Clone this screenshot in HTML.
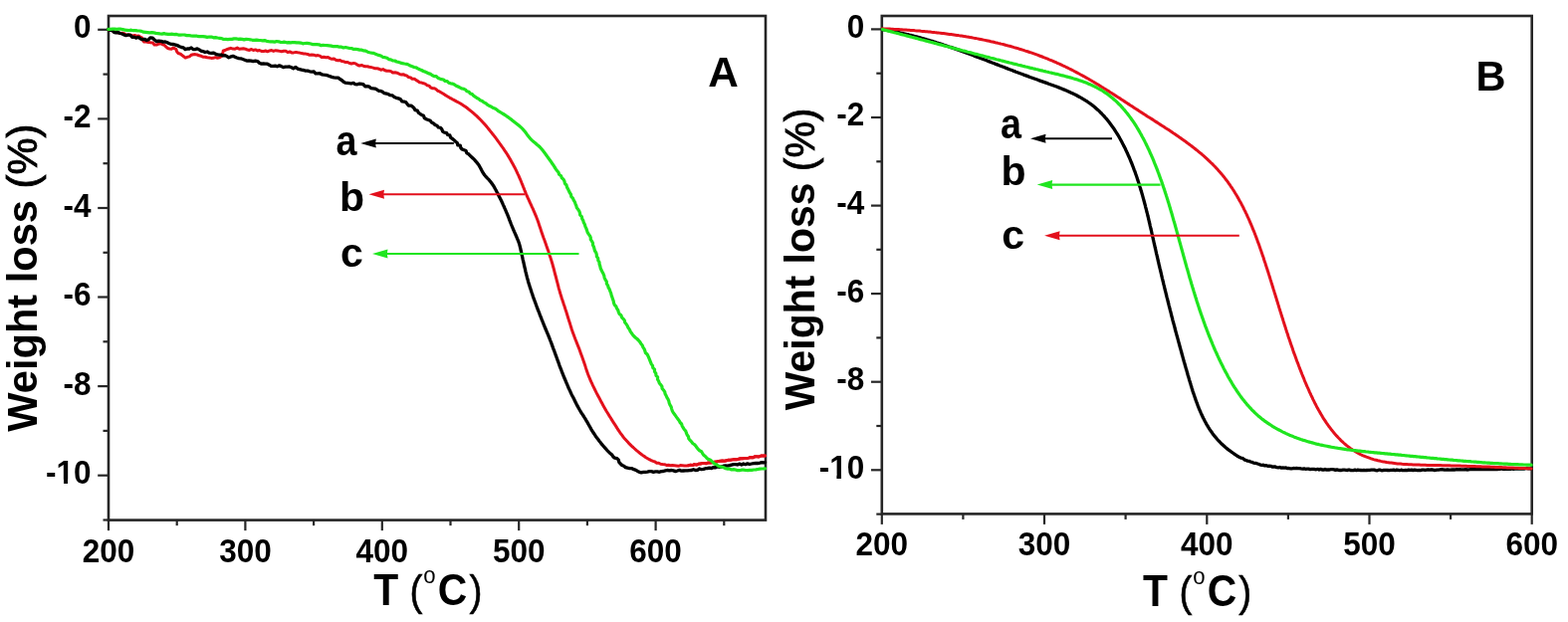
<!DOCTYPE html><html><head><meta charset="utf-8"><style>html,body{margin:0;padding:0;background:#fff;}svg{display:block;}</style></head><body>
<svg width="1575" height="625" viewBox="0 0 1575 625">
<rect width="1575" height="625" fill="#fff"/>
<rect x="109.0" y="16.0" width="660.0" height="506.6" fill="none" stroke="#262626" stroke-width="2.6"/>
<line x1="109.0" y1="522.6" x2="109.0" y2="533.1" stroke="#262626" stroke-width="2.2"/>
<line x1="177.7" y1="522.6" x2="177.7" y2="528.1" stroke="#262626" stroke-width="2.2"/>
<line x1="246.4" y1="522.6" x2="246.4" y2="533.1" stroke="#262626" stroke-width="2.2"/>
<line x1="315.1" y1="522.6" x2="315.1" y2="528.1" stroke="#262626" stroke-width="2.2"/>
<line x1="383.8" y1="522.6" x2="383.8" y2="533.1" stroke="#262626" stroke-width="2.2"/>
<line x1="452.5" y1="522.6" x2="452.5" y2="528.1" stroke="#262626" stroke-width="2.2"/>
<line x1="521.2" y1="522.6" x2="521.2" y2="533.1" stroke="#262626" stroke-width="2.2"/>
<line x1="589.9" y1="522.6" x2="589.9" y2="528.1" stroke="#262626" stroke-width="2.2"/>
<line x1="658.6" y1="522.6" x2="658.6" y2="533.1" stroke="#262626" stroke-width="2.2"/>
<line x1="727.3" y1="522.6" x2="727.3" y2="528.1" stroke="#262626" stroke-width="2.2"/>
<line x1="98.2" y1="29.8" x2="109.0" y2="29.8" stroke="#262626" stroke-width="2.2"/>
<line x1="103.5" y1="74.6" x2="109.0" y2="74.6" stroke="#262626" stroke-width="2.2"/>
<line x1="98.2" y1="119.4" x2="109.0" y2="119.4" stroke="#262626" stroke-width="2.2"/>
<line x1="103.5" y1="164.2" x2="109.0" y2="164.2" stroke="#262626" stroke-width="2.2"/>
<line x1="98.2" y1="209.0" x2="109.0" y2="209.0" stroke="#262626" stroke-width="2.2"/>
<line x1="103.5" y1="253.8" x2="109.0" y2="253.8" stroke="#262626" stroke-width="2.2"/>
<line x1="98.2" y1="298.5" x2="109.0" y2="298.5" stroke="#262626" stroke-width="2.2"/>
<line x1="103.5" y1="343.3" x2="109.0" y2="343.3" stroke="#262626" stroke-width="2.2"/>
<line x1="98.2" y1="388.1" x2="109.0" y2="388.1" stroke="#262626" stroke-width="2.2"/>
<line x1="103.5" y1="432.9" x2="109.0" y2="432.9" stroke="#262626" stroke-width="2.2"/>
<line x1="98.2" y1="477.7" x2="109.0" y2="477.7" stroke="#262626" stroke-width="2.2"/>
<line x1="103.5" y1="522.5" x2="109.0" y2="522.5" stroke="#262626" stroke-width="2.2"/>
<g fill="none" stroke-linejoin="round" stroke-linecap="round">
<path d="M108.7 29.8 L110.6 30.4 L112.7 30.6 L114.5 31.7 L116.5 32.0 L118.4 32.9 L120.5 33.4 L122.7 33.2 L124.8 33.6 L126.6 35.2 L128.8 34.9 L130.9 35.1 L133.1 36.2 L135.3 35.5 L137.3 36.2 L139.3 36.1 L140.9 37.1 L142.8 38.1 L143.4 40.4 L144.7 42.1 L146.9 42.0 L149.2 42.4 L151.2 42.8 L153.6 43.1 L155.1 45.0 L157.3 45.1 L159.4 44.2 L161.6 43.4 L163.4 44.8 L165.3 45.4 L166.7 46.9 L168.3 48.3 L170.2 49.0 L172.2 49.2 L174.0 48.1 L175.5 48.7 L177.0 49.6 L177.6 51.8 L179.0 53.5 L181.3 54.2 L182.9 55.6 L184.5 56.7 L186.2 58.1 L188.2 57.3 L190.2 56.9 L192.0 55.3 L194.1 54.7 L196.1 54.6 L198.1 55.0 L200.0 55.8 L202.0 56.3 L203.9 57.2 L206.0 57.2 L208.1 57.8 L210.1 58.0 L212.2 58.4 L214.3 58.3 L216.3 57.6 L218.4 58.2 L220.5 57.8 L222.2 56.7 L223.0 54.8 L223.9 53.1 L224.2 51.0 L226.1 50.5 L227.8 49.7 L229.8 49.0 L231.8 48.3 L234.0 49.1 L236.1 49.2 L238.3 48.1 L240.4 49.3 L242.4 49.0 L244.5 48.8 L246.5 49.2 L248.5 50.1 L250.5 50.4 L252.6 49.5 L254.5 50.5 L256.6 49.9 L258.6 51.0 L260.6 50.5 L262.6 51.4 L264.7 51.6 L266.7 51.0 L268.7 51.8 L270.8 50.9 L272.8 50.6 L274.8 51.4 L276.9 50.7 L278.9 51.0 L280.9 51.4 L282.9 51.8 L285.0 51.3 L287.0 51.3 L289.0 52.6 L291.1 51.9 L293.0 52.9 L295.0 52.9 L297.1 52.4 L299.1 52.8 L301.1 53.1 L303.1 53.6 L305.1 53.9 L307.1 54.1 L309.1 54.5 L311.1 55.3 L313.2 55.0 L315.2 55.2 L317.1 55.9 L319.3 55.6 L321.3 56.1 L323.1 57.5 L325.3 57.3 L327.3 57.8 L329.5 57.5 L331.4 58.6 L333.3 59.3 L335.5 59.0 L337.3 60.2 L339.3 60.7 L341.5 60.4 L343.3 61.6 L345.3 61.8 L347.2 62.6 L349.3 62.6 L351.1 63.5 L353.1 64.0 L355.3 63.4 L357.2 63.9 L359.0 65.2 L360.9 66.1 L363.1 65.5 L365.0 66.2 L366.9 66.8 L369.0 66.8 L370.9 67.3 L372.9 67.6 L374.9 68.1 L376.8 68.8 L378.8 68.8 L380.8 69.3 L382.6 70.2 L384.8 69.6 L386.6 70.7 L388.6 71.3 L390.7 71.2 L392.7 71.6 L394.5 73.0 L396.8 72.7 L398.8 73.2 L400.7 74.1 L402.7 75.0 L404.9 74.7 L406.8 75.5 L408.8 76.2 L410.4 77.6 L412.5 77.9 L414.1 79.3 L416.3 79.3 L418.0 80.4 L419.7 81.6 L421.4 82.8 L423.5 83.1 L425.4 83.7 L427.3 84.4 L428.9 85.7 L430.9 86.1 L432.4 87.8 L434.2 88.7 L436.4 88.7 L438.1 89.7 L439.6 91.3 L441.5 91.9 L443.2 93.0 L444.9 94.0 L446.6 95.1 L448.4 96.2 L450.1 97.2 L451.8 98.3 L453.6 99.2 L455.3 100.2 L457.1 101.1 L458.9 102.1 L460.7 103.0 L462.4 104.0 L464.1 105.1 L465.8 106.2 L467.5 107.3 L469.2 108.5 L470.8 109.8 L472.4 111.1 L474.0 112.4 L475.5 113.7 L477.1 115.1 L478.6 116.4 L480.1 117.9 L481.6 119.3 L483.0 120.7 L484.4 122.2 L485.8 123.7 L487.2 125.3 L488.5 126.8 L489.8 128.4 L491.1 130.0 L492.4 131.6 L493.7 133.2 L494.9 134.8 L496.2 136.4 L497.5 138.0 L498.7 139.7 L499.9 141.3 L501.1 143.0 L502.3 144.7 L503.5 146.3 L504.7 148.0 L505.9 149.7 L507.0 151.4 L508.2 153.1 L509.3 154.8 L510.4 156.6 L511.4 158.3 L512.5 160.1 L513.5 161.9 L514.5 163.7 L515.5 165.5 L516.4 167.3 L517.4 169.1 L518.3 170.9 L519.2 172.8 L520.0 174.6 L520.9 176.4 L521.7 178.3 L522.5 180.1 L523.3 182.0 L524.0 183.8 L524.8 185.7 L525.5 187.6 L526.3 189.4 L527.0 191.3 L527.8 193.2 L528.5 195.0 L529.3 196.9 L530.1 198.7 L531.0 200.5 L531.8 202.4 L532.6 204.2 L533.5 206.0 L534.3 207.9 L535.2 209.7 L536.0 211.6 L536.8 213.4 L537.6 215.3 L538.4 217.2 L539.2 219.2 L539.9 221.1 L540.6 223.1 L541.3 225.1 L541.9 227.1 L542.6 229.1 L543.3 231.1 L543.9 233.1 L544.6 235.1 L545.3 237.1 L546.0 239.0 L546.8 241.0 L547.5 242.9 L548.2 244.9 L548.8 246.8 L549.5 248.8 L550.2 250.7 L550.9 252.6 L551.5 254.6 L552.1 256.5 L552.8 258.4 L553.4 260.4 L554.0 262.3 L554.6 264.3 L555.2 266.3 L555.7 268.3 L556.3 270.3 L556.8 272.3 L557.3 274.3 L557.8 276.3 L558.4 278.3 L558.9 280.3 L559.4 282.3 L559.9 284.2 L560.4 286.2 L560.9 288.1 L561.4 290.1 L562.0 292.0 L562.5 294.0 L563.1 295.9 L563.7 297.8 L564.3 299.8 L565.0 301.7 L565.6 303.6 L566.2 305.5 L566.9 307.4 L567.5 309.4 L568.1 311.3 L568.8 313.3 L569.4 315.2 L570.0 317.2 L570.6 319.2 L571.2 321.1 L571.8 323.1 L572.5 325.1 L573.1 327.1 L573.7 329.0 L574.3 331.0 L575.0 332.9 L575.7 334.9 L576.4 336.8 L577.1 338.7 L577.8 340.6 L578.6 342.5 L579.3 344.4 L580.1 346.3 L580.8 348.2 L581.6 350.1 L582.3 352.0 L583.0 353.9 L583.7 355.9 L584.4 357.8 L585.1 359.8 L585.8 361.8 L586.5 363.8 L587.2 365.8 L587.9 367.9 L588.5 369.9 L589.2 372.0 L589.9 374.0 L590.6 376.0 L591.4 378.0 L592.2 379.9 L593.0 381.8 L593.8 383.7 L594.7 385.5 L595.5 387.4 L596.4 389.2 L597.3 391.0 L598.2 392.9 L599.1 394.7 L600.1 396.5 L601.0 398.3 L602.0 400.1 L603.0 401.9 L603.9 403.8 L604.9 405.6 L605.9 407.4 L606.9 409.2 L607.9 411.0 L608.9 412.8 L610.0 414.5 L611.1 416.3 L612.2 418.1 L613.3 419.8 L614.4 421.6 L615.5 423.4 L616.6 425.1 L617.8 426.9 L618.9 428.6 L620.0 430.4 L621.1 432.1 L622.3 433.9 L623.5 435.6 L624.7 437.2 L625.9 438.9 L627.2 440.5 L628.6 442.0 L630.0 443.5 L631.4 445.1 L632.9 446.6 L634.4 448.1 L636.0 449.5 L637.6 451.0 L639.1 452.4 L640.7 453.7 L642.3 455.0 L643.9 456.2 L645.5 457.4 L647.2 458.6 L648.8 459.7 L650.6 460.7 L652.3 461.7 L654.1 462.6 L656.0 463.4 L657.9 464.0 L659.6 465.2 L661.7 465.3 L663.5 466.3 L665.5 466.6 L667.5 466.7 L669.4 467.4 L671.5 467.3 L673.4 467.8 L675.4 467.6 L677.4 467.7 L679.4 468.0 L681.4 468.3 L683.4 467.6 L685.5 467.7 L687.5 467.9 L689.5 468.1 L691.5 467.7 L693.5 467.3 L695.6 467.6 L697.5 466.6 L699.6 467.1 L701.5 466.3 L703.5 465.9 L705.5 465.6 L707.6 465.5 L709.6 465.7 L711.6 464.9 L713.6 465.0 L715.6 464.8 L717.6 464.3 L719.7 464.1 L721.6 463.4 L723.6 463.2 L725.6 463.0 L727.7 463.2 L729.7 462.7 L731.7 462.3 L733.7 462.3 L735.7 461.9 L737.7 461.5 L739.8 461.7 L741.8 461.3 L743.8 460.7 L745.8 460.7 L747.9 460.4 L750.0 460.5 L752.0 460.1 L754.0 459.4 L756.2 459.8 L758.1 458.8 L760.2 458.8 L762.3 458.9 L764.3 458.1 L766.4 458.1 L768.5 457.9 L768.5 457.9" stroke="#e3101c" stroke-width="3.0"/>
<path d="M108.7 29.8 L110.6 30.4 L112.8 30.5 L114.3 32.3 L116.3 32.8 L118.6 32.5 L120.5 33.5 L122.6 34.0 L124.6 34.9 L126.6 35.7 L128.9 35.0 L131.0 35.4 L132.6 37.3 L134.8 37.1 L136.6 38.2 L139.0 37.4 L140.8 38.7 L142.9 39.7 L145.2 39.3 L147.3 40.5 L149.3 39.8 L151.0 37.8 L153.3 38.1 L155.1 40.0 L157.0 41.5 L159.5 41.1 L161.7 41.3 L163.7 42.1 L166.0 41.9 L168.1 42.8 L170.0 43.7 L172.1 44.4 L174.3 44.5 L176.3 45.1 L178.4 45.7 L180.3 46.8 L182.3 47.5 L184.3 47.8 L186.0 49.6 L188.0 49.0 L190.1 49.0 L192.1 48.0 L194.0 49.5 L195.9 49.6 L198.2 48.9 L200.1 49.9 L201.9 51.1 L203.9 51.6 L205.9 52.5 L208.2 52.0 L210.1 53.2 L212.2 53.3 L214.3 53.1 L216.2 54.0 L218.1 54.9 L220.1 55.2 L222.2 55.1 L224.0 55.9 L226.2 55.6 L228.0 56.6 L229.8 57.8 L231.9 56.9 L234.0 56.3 L236.0 57.2 L237.8 58.0 L239.8 58.6 L241.9 58.8 L243.9 59.5 L245.8 60.2 L247.8 61.1 L250.1 61.0 L252.2 61.1 L254.3 61.6 L256.6 61.1 L258.7 61.5 L260.5 63.2 L262.3 64.1 L264.5 63.9 L266.5 64.1 L268.6 64.2 L270.4 65.2 L272.3 66.4 L274.4 66.3 L276.5 66.1 L278.4 66.8 L280.6 65.9 L282.6 66.6 L284.5 67.6 L286.6 67.1 L288.7 67.1 L290.8 67.0 L292.8 67.8 L294.7 68.8 L297.0 67.4 L298.9 69.1 L300.9 69.6 L302.9 70.2 L304.9 70.5 L306.9 71.1 L309.1 71.1 L311.1 71.8 L313.2 72.1 L315.4 72.0 L317.0 73.9 L319.2 73.9 L321.3 73.7 L323.2 74.8 L325.3 75.2 L327.3 75.4 L329.4 75.9 L331.3 76.7 L333.3 77.3 L335.3 77.8 L337.4 78.1 L339.7 78.1 L341.4 79.5 L343.2 80.5 L344.8 82.0 L346.7 83.1 L348.8 83.3 L350.8 83.6 L352.8 84.0 L355.0 83.3 L356.8 84.7 L358.9 84.8 L361.1 84.1 L363.2 84.3 L365.2 84.9 L366.7 86.8 L369.0 86.6 L371.0 87.1 L372.6 88.7 L374.7 88.9 L376.7 89.1 L378.6 90.0 L380.3 91.3 L382.4 91.4 L384.3 92.3 L386.0 93.7 L388.1 94.0 L390.1 94.6 L392.0 95.7 L394.3 95.9 L396.0 97.4 L398.0 98.3 L400.1 98.9 L402.2 99.6 L403.7 101.8 L405.9 102.1 L407.9 102.8 L409.1 104.6 L410.5 106.1 L412.9 106.1 L414.5 107.3 L416.0 108.7 L417.0 110.7 L419.2 111.1 L420.2 113.1 L421.8 114.3 L423.5 115.4 L425.5 116.3 L426.3 118.6 L428.2 119.7 L430.2 120.5 L432.3 121.3 L433.5 123.1 L435.5 124.0 L437.0 125.5 L439.0 126.3 L440.3 128.0 L442.5 128.4 L443.8 129.9 L444.7 132.1 L446.4 133.1 L448.6 133.5 L449.6 135.5 L451.8 135.9 L452.6 138.1 L454.3 139.3 L456.0 140.8 L457.6 142.3 L459.3 143.5 L459.8 145.9 L462.3 146.1 L462.8 148.5 L464.2 150.0 L466.2 150.8 L468.1 151.6 L468.8 153.8 L470.7 154.8 L472.2 156.3 L473.7 157.8 L475.2 159.2 L476.7 160.7 L478.1 162.3 L479.4 163.9 L480.7 165.5 L481.7 167.2 L482.7 169.0 L483.6 170.8 L484.6 172.6 L485.6 174.3 L486.8 176.0 L488.2 177.6 L489.6 179.2 L491.1 180.7 L492.5 182.3 L493.8 184.0 L495.0 185.7 L496.1 187.4 L497.1 189.2 L498.1 191.0 L499.0 192.8 L500.0 194.6 L500.9 196.4 L501.8 198.2 L502.7 200.0 L503.6 201.8 L504.5 203.7 L505.3 205.6 L506.2 207.5 L507.0 209.4 L507.9 211.4 L508.7 213.3 L509.5 215.2 L510.3 217.2 L511.1 219.1 L511.8 221.1 L512.6 223.1 L513.3 225.0 L514.1 227.0 L514.9 228.9 L515.7 230.8 L516.5 232.7 L517.4 234.6 L518.2 236.5 L519.0 238.4 L519.8 240.3 L520.6 242.2 L521.3 244.1 L521.9 246.1 L522.4 248.1 L522.9 250.1 L523.3 252.2 L523.8 254.2 L524.2 256.2 L524.7 258.3 L525.1 260.3 L525.6 262.4 L526.1 264.5 L526.5 266.5 L527.0 268.6 L527.5 270.6 L527.9 272.6 L528.4 274.7 L528.9 276.7 L529.4 278.7 L530.0 280.7 L530.5 282.7 L531.1 284.7 L531.7 286.6 L532.3 288.6 L533.0 290.5 L533.6 292.4 L534.2 294.3 L534.9 296.2 L535.5 298.2 L536.2 300.1 L536.9 302.0 L537.6 303.9 L538.3 305.8 L539.0 307.7 L539.7 309.6 L540.4 311.5 L541.2 313.3 L541.9 315.2 L542.6 317.1 L543.4 319.0 L544.1 320.9 L544.9 322.8 L545.6 324.7 L546.4 326.6 L547.2 328.6 L548.0 330.5 L548.8 332.4 L549.6 334.3 L550.4 336.2 L551.2 338.2 L552.0 340.1 L552.7 342.0 L553.5 344.0 L554.2 345.9 L554.9 347.9 L555.6 349.8 L556.4 351.8 L557.1 353.7 L557.8 355.7 L558.5 357.6 L559.2 359.5 L559.9 361.5 L560.6 363.4 L561.3 365.3 L561.9 367.1 L562.6 369.0 L563.4 370.9 L564.1 372.8 L564.8 374.7 L565.6 376.6 L566.4 378.6 L567.2 380.5 L568.0 382.4 L568.8 384.3 L569.6 386.2 L570.4 388.1 L571.2 390.0 L572.1 391.9 L573.0 393.8 L573.8 395.6 L574.7 397.5 L575.7 399.3 L576.6 401.1 L577.5 403.0 L578.4 404.8 L579.3 406.6 L580.3 408.4 L581.3 410.2 L582.3 412.0 L583.4 413.8 L584.5 415.6 L585.7 417.3 L586.8 419.1 L587.9 420.8 L588.9 422.6 L590.0 424.4 L591.0 426.2 L592.0 428.0 L593.0 429.8 L594.0 431.6 L595.1 433.3 L596.2 435.0 L597.3 436.7 L598.4 438.4 L599.6 440.0 L600.8 441.6 L602.0 443.2 L603.3 444.8 L604.5 446.4 L605.9 448.0 L607.3 449.6 L608.7 451.2 L610.2 452.8 L611.7 454.3 L613.2 455.8 L614.8 457.1 L615.9 458.9 L617.5 460.2 L619.8 460.7 L621.3 462.2 L621.8 464.4 L623.3 466.0 L624.8 467.5 L626.7 468.3 L628.3 469.6 L630.4 470.2 L632.6 470.7 L634.8 470.7 L636.7 471.7 L638.7 472.3 L640.4 473.4 L642.2 474.3 L644.2 474.8 L646.3 474.4 L648.3 474.3 L650.3 474.1 L652.3 473.7 L654.3 473.7 L656.3 474.3 L658.3 473.9 L660.3 473.8 L662.4 474.3 L664.4 473.6 L666.4 473.5 L668.4 472.9 L670.4 472.5 L672.4 472.8 L674.4 472.5 L676.4 472.9 L678.5 473.6 L680.5 473.0 L682.5 472.3 L684.5 473.2 L686.5 473.0 L688.5 472.8 L690.6 472.9 L692.6 472.6 L694.6 472.5 L696.5 471.7 L698.6 472.5 L700.6 472.3 L702.6 471.0 L704.6 471.7 L706.7 471.4 L708.6 470.7 L710.7 470.5 L712.7 470.2 L714.8 470.5 L716.7 469.6 L718.8 469.8 L720.7 468.8 L722.8 469.3 L724.8 469.0 L726.7 468.2 L728.8 468.0 L730.9 468.2 L732.8 467.7 L734.8 467.1 L736.8 466.6 L738.8 466.6 L740.8 467.0 L742.8 466.1 L744.8 467.0 L746.8 466.0 L748.8 466.7 L750.8 465.8 L752.9 466.5 L754.9 466.0 L757.0 465.6 L759.1 465.4 L761.2 465.5 L763.3 465.2 L765.3 464.7 L767.5 464.8 L768.5 464.7" stroke="#000" stroke-width="3.3"/>
<path d="M691.5 467.7 L693.5 467.3 L695.6 467.6 L697.5 466.6 L699.6 467.1 L701.5 466.3 L703.5 465.9 L705.5 465.6 L707.6 465.5 L709.6 465.7 L711.6 464.9 L713.6 465.0 L715.6 464.8 L717.6 464.3 L719.7 464.1 L721.6 463.4 L723.6 463.2 L725.6 463.0 L727.7 463.2 L729.7 462.7 L731.7 462.3 L733.7 462.3 L735.7 461.9 L737.7 461.5 L739.8 461.7 L741.8 461.3 L743.8 460.7 L745.8 460.7 L747.9 460.4 L750.0 460.5 L752.0 460.1 L754.0 459.4 L756.2 459.8 L758.1 458.8 L760.2 458.8 L762.3 458.9 L764.3 458.1 L766.4 458.1 L768.5 457.9 L768.5 457.9" stroke="#e3101c" stroke-width="3.0"/>
<path d="M108.7 29.4 L110.8 29.4 L113.0 29.2 L115.1 29.1 L117.2 29.3 L119.4 29.2 L121.5 29.2 L123.6 29.6 L125.6 30.2 L127.7 30.3 L129.7 30.5 L131.8 30.2 L133.9 30.7 L136.0 30.7 L138.0 30.9 L140.1 31.0 L142.2 31.4 L144.1 32.2 L146.2 32.4 L148.3 32.6 L150.3 32.8 L152.5 32.6 L154.5 32.9 L156.6 33.4 L158.6 33.6 L160.7 33.9 L162.7 34.1 L164.8 33.6 L166.9 34.2 L168.9 34.4 L171.0 34.4 L173.1 34.2 L175.1 34.6 L177.2 34.4 L179.2 35.1 L181.3 35.2 L183.4 35.0 L185.4 35.0 L187.5 35.6 L189.6 35.5 L191.6 35.9 L193.7 36.1 L195.7 36.1 L197.8 36.2 L199.9 36.6 L201.9 36.6 L204.0 36.6 L206.1 36.9 L208.1 37.4 L210.3 37.0 L212.3 37.1 L214.4 37.8 L216.5 37.6 L218.5 38.0 L220.6 38.3 L222.7 38.6 L224.6 39.5 L226.8 39.3 L228.8 39.6 L230.8 39.4 L232.9 39.4 L235.0 38.9 L237.1 38.9 L239.1 39.3 L241.2 39.1 L243.2 39.4 L245.2 39.9 L247.3 39.4 L249.4 39.5 L251.4 39.8 L253.5 40.3 L255.5 40.4 L257.6 40.2 L259.6 40.4 L261.7 40.5 L263.7 40.8 L265.8 40.6 L267.8 41.3 L269.8 41.6 L271.8 41.8 L273.9 41.8 L275.9 42.1 L278.0 41.5 L280.0 41.8 L282.0 42.5 L284.0 42.4 L286.0 42.2 L288.0 42.8 L290.0 42.6 L292.0 42.9 L294.0 42.5 L296.0 42.6 L298.0 42.9 L300.0 42.8 L302.1 43.1 L304.1 43.8 L306.2 43.5 L308.2 43.4 L310.3 43.7 L312.3 44.0 L314.3 44.7 L316.4 44.6 L318.4 44.7 L320.5 44.8 L322.5 45.7 L324.6 45.4 L326.6 45.5 L328.7 45.6 L330.8 45.8 L332.8 46.1 L334.8 46.7 L336.9 46.5 L338.9 46.6 L341.0 47.2 L343.0 47.2 L345.0 48.0 L347.1 47.5 L349.1 48.0 L351.2 48.5 L353.2 48.6 L355.2 49.4 L357.3 49.4 L359.3 49.6 L361.3 50.1 L363.4 50.2 L365.4 50.9 L367.4 51.2 L369.3 52.2 L371.3 52.7 L373.3 53.1 L375.3 53.4 L377.2 54.3 L379.1 55.0 L381.0 55.6 L383.0 56.3 L384.7 57.5 L386.8 57.7 L388.8 58.3 L390.5 59.6 L392.5 59.9 L394.4 60.9 L396.5 61.0 L398.4 62.0 L400.4 62.4 L402.3 63.1 L404.3 63.6 L406.3 64.0 L408.4 64.3 L410.3 65.0 L412.1 66.1 L414.1 66.8 L415.9 67.5 L418.0 67.8 L419.7 68.9 L421.5 69.8 L423.4 70.5 L425.2 71.5 L427.1 72.1 L428.9 73.0 L430.7 73.9 L432.6 74.4 L434.3 75.7 L436.1 76.6 L438.2 76.7 L439.7 78.2 L441.6 79.0 L443.5 79.7 L445.5 80.0 L447.1 81.5 L449.2 81.7 L450.7 83.2 L452.7 83.8 L454.7 84.1 L456.5 85.0 L458.2 86.2 L460.1 87.0 L461.8 87.9 L463.6 88.9 L465.6 89.3 L467.5 90.1 L468.9 91.8 L471.0 92.3 L472.3 94.0 L474.3 94.6 L475.7 96.2 L477.4 97.3 L479.0 98.5 L480.9 99.4 L482.4 100.8 L484.4 101.5 L486.0 102.9 L487.9 103.7 L489.4 105.2 L491.2 106.2 L493.1 107.0 L494.9 108.2 L496.9 108.9 L498.6 109.9 L500.2 111.3 L502.0 112.4 L503.8 113.5 L505.5 114.5 L507.3 115.6 L509.0 116.8 L510.7 117.9 L512.4 119.2 L514.0 120.4 L515.6 121.7 L517.2 123.0 L518.8 124.2 L520.4 125.5 L522.0 126.8 L523.5 128.2 L525.0 129.6 L526.4 131.2 L527.7 132.8 L529.0 134.6 L530.2 136.3 L531.6 138.0 L532.9 139.6 L534.5 141.1 L536.1 142.5 L537.7 143.8 L539.3 145.2 L540.9 146.5 L542.5 148.0 L543.8 149.5 L545.1 151.1 L546.4 152.7 L547.6 154.3 L548.8 156.0 L550.0 157.7 L551.2 159.3 L552.4 161.0 L553.6 162.7 L554.8 164.5 L556.0 166.2 L557.1 168.0 L558.3 169.8 L559.5 171.5 L561.0 173.2 L561.6 175.3 L563.6 176.7 L564.3 178.8 L566.0 180.2 L567.0 182.2 L567.4 184.4 L569.0 186.0 L569.5 188.1 L570.5 189.9 L571.4 191.8 L572.3 193.7 L573.5 195.5 L573.8 197.6 L575.4 199.2 L576.2 201.1 L577.3 202.8 L578.0 204.8 L578.8 206.7 L579.3 208.7 L580.6 210.3 L581.8 212.1 L582.5 214.0 L582.7 216.1 L584.4 217.6 L584.7 219.8 L585.8 221.6 L586.3 223.7 L587.4 225.5 L587.9 227.6 L588.8 229.4 L589.5 231.4 L590.1 233.4 L591.2 235.1 L592.4 236.8 L593.3 238.6 L593.3 240.7 L594.5 242.4 L595.5 244.2 L595.5 246.3 L596.5 248.1 L597.0 250.1 L597.5 252.0 L598.7 253.8 L599.3 255.7 L599.4 257.8 L600.7 259.5 L600.8 261.6 L602.0 263.3 L602.1 265.4 L602.8 267.4 L603.2 269.4 L604.0 271.3 L605.0 273.2 L606.0 275.1 L606.8 277.0 L607.2 279.1 L608.1 281.1 L609.3 282.9 L609.4 285.1 L610.6 286.9 L611.1 288.9 L612.2 290.7 L612.9 292.6 L613.7 294.5 L614.1 296.5 L614.8 298.4 L615.4 300.4 L616.2 302.3 L616.5 304.4 L617.3 306.3 L618.8 307.9 L619.5 309.8 L620.7 311.5 L621.3 313.5 L622.1 315.4 L623.9 316.7 L624.5 318.8 L626.0 320.3 L627.3 321.9 L627.7 324.0 L629.0 325.6 L630.2 327.3 L631.0 329.3 L632.2 330.9 L633.1 332.8 L634.2 334.5 L635.4 336.2 L636.7 337.8 L638.3 339.2 L639.9 340.5 L641.4 342.0 L642.8 343.6 L643.9 345.4 L645.2 347.0 L645.9 348.9 L647.1 350.6 L647.8 352.5 L648.4 354.5 L650.1 356.0 L651.0 357.8 L651.8 359.7 L652.6 361.7 L653.4 363.7 L654.2 365.7 L655.5 367.4 L655.8 369.6 L657.5 371.2 L657.5 373.4 L658.8 375.2 L659.0 377.3 L660.6 378.9 L660.5 381.2 L661.6 383.0 L662.3 384.9 L663.6 386.5 L664.9 388.2 L665.1 390.4 L666.5 392.0 L667.7 393.6 L668.1 395.7 L669.1 397.5 L669.9 399.4 L671.0 401.1 L671.8 403.0 L672.2 405.0 L673.0 406.9 L674.1 408.6 L674.6 410.6 L675.2 412.6 L676.1 414.4 L677.3 416.0 L678.5 417.7 L679.7 419.4 L680.9 421.0 L682.1 422.6 L683.1 424.5 L684.6 426.0 L685.2 428.0 L686.3 429.8 L687.3 431.5 L688.8 433.1 L689.4 435.1 L690.2 437.0 L691.5 438.7 L691.8 440.8 L693.2 442.4 L694.6 443.8 L695.8 445.5 L697.5 446.6 L698.9 448.1 L700.0 449.8 L701.3 451.4 L702.7 452.8 L704.6 453.7 L705.6 455.6 L706.8 457.2 L708.4 458.5 L709.7 460.0 L711.2 461.4 L713.2 462.0 L714.8 463.3 L716.3 464.7 L717.7 466.2 L719.7 466.7 L721.2 468.1 L723.1 468.8 L725.1 469.1 L727.0 469.8 L728.9 470.7 L730.9 471.1 L732.9 471.1 L734.8 472.0 L736.9 471.7 L738.8 472.0 L740.8 472.7 L742.8 472.7 L744.8 472.2 L746.8 472.2 L748.9 472.5 L751.0 472.6 L753.0 472.3 L755.1 472.3 L757.2 472.0 L759.2 471.9 L761.3 471.5 L763.3 471.1 L765.4 471.0 L767.5 470.9 L768.5 470.8" stroke="#1fe51f" stroke-width="3.2"/>
</g>
<g font-family="Liberation Sans, Arial, sans-serif" font-weight="bold" font-size="31.5" fill="#000" text-anchor="middle">
<text transform="translate(109.0,564.6) scale(1,1.05)">200</text>
<text transform="translate(246.4,564.6) scale(1,1.05)">300</text>
<text transform="translate(383.8,564.6) scale(1,1.05)">400</text>
<text transform="translate(521.2,564.6) scale(1,1.05)">500</text>
<text transform="translate(658.6,564.6) scale(1,1.05)">600</text>
</g>
<g font-family="Liberation Sans, Arial, sans-serif" font-weight="bold" font-size="31.5" fill="#000" text-anchor="end">
<text transform="translate(91.5,38.4) scale(1,1.05)">0</text>
<text transform="translate(91.5,128.0) scale(1,1.05)">-2</text>
<text transform="translate(91.5,217.6) scale(1,1.05)">-4</text>
<text transform="translate(91.5,307.1) scale(1,1.05)">-6</text>
<text transform="translate(91.5,396.7) scale(1,1.05)">-8</text>
<text transform="translate(91.5,486.3) scale(1,1.05)">-10</text>
</g>
<text transform="translate(375.3,608.2) scale(0.985,1.065)" font-family="Liberation Sans, Arial, sans-serif" font-weight="bold" font-size="41.5" fill="#000">T <tspan font-weight="normal" stroke="#000" stroke-width="0.5" font-size="39.5">(</tspan><tspan font-weight="normal" font-size="22.5" dy="-20.8" dx="0.8">o</tspan><tspan dy="20.8" dx="2.2">C</tspan><tspan font-weight="normal" stroke="#000" stroke-width="0.5" font-size="39.5" dx="2.2">)</tspan></text>
<text transform="translate(36.5,433.7) rotate(-90) scale(1.015,1.035)" font-family="Liberation Sans, Arial, sans-serif" font-weight="bold" font-size="41" fill="#000">Weight loss <tspan font-weight="normal" stroke="#000" stroke-width="0.8">(%)</tspan></text>
<text transform="translate(711.2,87.4) scale(1.02,1.03)" font-family="Liberation Sans, Arial, sans-serif" font-weight="bold" font-size="41.5" fill="#000">A</text>
<g font-family="Liberation Sans, Arial, sans-serif" font-weight="bold" font-size="41" fill="#000">
<text transform="translate(337.4,155.6) scale(0.92,1.02)">a</text><text x="341" y="211.7">b</text><text x="342" y="267.8">c</text>
</g>
<line x1="370.3" y1="144.0" x2="455.8" y2="144.0" stroke="#000" stroke-width="2.1"/><path d="M362.3 144.0 L377.8 139.5 L377.1 144.0 L377.8 148.5 Z" fill="#000"/>
<line x1="378.5" y1="195.3" x2="527.0" y2="195.3" stroke="#e3101c" stroke-width="2.1"/><path d="M370.5 195.3 L386.0 190.8 L385.3 195.3 L386.0 199.8 Z" fill="#e3101c"/>
<line x1="382.0" y1="255.0" x2="581.5" y2="255.0" stroke="#1fe51f" stroke-width="2.1"/><path d="M374.0 255.0 L389.5 250.5 L388.8 255.0 L389.5 259.5 Z" fill="#1fe51f"/>
<rect x="885.8" y="16.0" width="652.9" height="500.4" fill="none" stroke="#262626" stroke-width="2.6"/>
<line x1="885.8" y1="516.4" x2="885.8" y2="526.9" stroke="#262626" stroke-width="2.2"/>
<line x1="967.4" y1="516.4" x2="967.4" y2="521.9" stroke="#262626" stroke-width="2.2"/>
<line x1="1049.0" y1="516.4" x2="1049.0" y2="526.9" stroke="#262626" stroke-width="2.2"/>
<line x1="1130.6" y1="516.4" x2="1130.6" y2="521.9" stroke="#262626" stroke-width="2.2"/>
<line x1="1212.3" y1="516.4" x2="1212.3" y2="526.9" stroke="#262626" stroke-width="2.2"/>
<line x1="1293.9" y1="516.4" x2="1293.9" y2="521.9" stroke="#262626" stroke-width="2.2"/>
<line x1="1375.5" y1="516.4" x2="1375.5" y2="526.9" stroke="#262626" stroke-width="2.2"/>
<line x1="1457.1" y1="516.4" x2="1457.1" y2="521.9" stroke="#262626" stroke-width="2.2"/>
<line x1="1538.7" y1="516.4" x2="1538.7" y2="526.9" stroke="#262626" stroke-width="2.2"/>
<line x1="875.0" y1="29.4" x2="885.8" y2="29.4" stroke="#262626" stroke-width="2.2"/>
<line x1="880.3" y1="73.7" x2="885.8" y2="73.7" stroke="#262626" stroke-width="2.2"/>
<line x1="875.0" y1="118.0" x2="885.8" y2="118.0" stroke="#262626" stroke-width="2.2"/>
<line x1="880.3" y1="162.3" x2="885.8" y2="162.3" stroke="#262626" stroke-width="2.2"/>
<line x1="875.0" y1="206.6" x2="885.8" y2="206.6" stroke="#262626" stroke-width="2.2"/>
<line x1="880.3" y1="250.8" x2="885.8" y2="250.8" stroke="#262626" stroke-width="2.2"/>
<line x1="875.0" y1="295.1" x2="885.8" y2="295.1" stroke="#262626" stroke-width="2.2"/>
<line x1="880.3" y1="339.4" x2="885.8" y2="339.4" stroke="#262626" stroke-width="2.2"/>
<line x1="875.0" y1="383.7" x2="885.8" y2="383.7" stroke="#262626" stroke-width="2.2"/>
<line x1="880.3" y1="428.0" x2="885.8" y2="428.0" stroke="#262626" stroke-width="2.2"/>
<line x1="875.0" y1="472.3" x2="885.8" y2="472.3" stroke="#262626" stroke-width="2.2"/>
<line x1="880.3" y1="516.6" x2="885.8" y2="516.6" stroke="#262626" stroke-width="2.2"/>
<g fill="none" stroke-linejoin="round" stroke-linecap="round">
<path d="M886.4 29.6 L887.9 29.8 L889.4 30.1 L891.0 30.4 L892.5 30.6 L894.0 30.9 L895.5 31.2 L897.0 31.5 L898.5 31.8 L900.0 32.1 L901.5 32.4 L903.0 32.7 L904.5 33.0 L906.0 33.3 L907.4 33.7 L908.9 34.0 L910.4 34.4 L911.9 34.7 L913.3 35.1 L914.8 35.4 L916.2 35.8 L917.7 36.2 L919.2 36.5 L920.6 36.9 L922.1 37.3 L923.5 37.7 L925.0 38.1 L926.4 38.5 L927.8 38.9 L929.3 39.3 L930.7 39.7 L932.1 40.2 L933.6 40.6 L935.0 41.0 L936.4 41.4 L937.9 41.9 L939.3 42.3 L940.7 42.8 L942.1 43.2 L943.5 43.7 L944.9 44.1 L946.4 44.6 L947.8 45.1 L949.2 45.5 L950.6 46.0 L952.0 46.5 L953.4 47.0 L954.8 47.4 L956.2 47.9 L957.6 48.4 L959.0 48.9 L960.4 49.4 L961.8 49.9 L963.2 50.4 L964.6 50.9 L966.0 51.4 L967.4 51.9 L968.8 52.4 L970.2 52.9 L971.6 53.5 L973.0 54.0 L974.4 54.5 L975.8 55.0 L977.2 55.5 L978.5 56.1 L979.9 56.6 L981.3 57.1 L982.7 57.6 L984.1 58.2 L985.5 58.7 L986.9 59.2 L988.3 59.8 L989.7 60.3 L991.1 60.8 L992.5 61.4 L993.8 61.9 L995.2 62.4 L996.6 63.0 L998.0 63.5 L999.4 64.1 L1000.8 64.6 L1002.2 65.1 L1003.6 65.7 L1005.0 66.2 L1006.4 66.8 L1007.8 67.3 L1009.2 67.8 L1010.6 68.4 L1012.0 68.9 L1013.4 69.5 L1014.8 70.0 L1016.2 70.5 L1017.6 71.1 L1019.0 71.6 L1020.4 72.2 L1021.9 72.7 L1023.3 73.2 L1024.7 73.8 L1026.1 74.3 L1027.5 74.8 L1028.9 75.4 L1030.4 75.9 L1031.8 76.4 L1033.2 76.9 L1034.6 77.5 L1036.1 78.0 L1037.5 78.5 L1038.9 79.0 L1040.4 79.5 L1041.8 80.0 L1043.2 80.6 L1044.7 81.1 L1046.1 81.6 L1047.6 82.1 L1049.0 82.6 L1050.5 83.1 L1051.9 83.6 L1053.3 84.2 L1054.8 84.7 L1056.2 85.2 L1057.7 85.7 L1059.1 86.3 L1060.5 86.8 L1061.9 87.3 L1063.4 87.9 L1064.8 88.4 L1066.2 89.0 L1067.6 89.6 L1069.0 90.1 L1070.4 90.7 L1071.8 91.3 L1073.2 91.9 L1074.5 92.5 L1075.9 93.2 L1077.3 93.8 L1078.6 94.4 L1079.9 95.1 L1081.3 95.8 L1082.6 96.5 L1083.9 97.2 L1085.2 97.9 L1086.5 98.6 L1087.7 99.4 L1089.0 100.1 L1090.2 100.9 L1091.5 101.7 L1092.7 102.5 L1093.9 103.3 L1095.1 104.2 L1096.3 105.0 L1097.4 105.9 L1098.6 106.8 L1099.7 107.7 L1100.8 108.7 L1101.9 109.7 L1103.0 110.6 L1104.1 111.6 L1105.1 112.7 L1106.2 113.7 L1107.2 114.8 L1108.2 115.8 L1109.2 116.9 L1110.1 118.0 L1111.1 119.1 L1112.1 120.3 L1113.0 121.4 L1113.9 122.6 L1114.8 123.8 L1115.7 125.0 L1116.6 126.2 L1117.5 127.4 L1118.3 128.6 L1119.2 129.8 L1120.0 131.1 L1120.8 132.4 L1121.6 133.6 L1122.4 134.9 L1123.2 136.2 L1124.0 137.5 L1124.7 138.8 L1125.5 140.2 L1126.2 141.5 L1126.9 142.8 L1127.6 144.2 L1128.3 145.5 L1129.0 146.9 L1129.7 148.2 L1130.4 149.6 L1131.0 151.0 L1131.7 152.4 L1132.3 153.8 L1132.9 155.1 L1133.5 156.5 L1134.2 157.9 L1134.8 159.3 L1135.3 160.7 L1135.9 162.1 L1136.5 163.5 L1137.1 164.9 L1137.6 166.4 L1138.2 167.8 L1138.7 169.2 L1139.2 170.6 L1139.8 172.0 L1140.3 173.4 L1140.8 174.9 L1141.3 176.3 L1141.8 177.7 L1142.3 179.2 L1142.7 180.6 L1143.2 182.0 L1143.7 183.5 L1144.1 184.9 L1144.6 186.3 L1145.0 187.8 L1145.5 189.2 L1145.9 190.7 L1146.3 192.1 L1146.8 193.6 L1147.2 195.0 L1147.6 196.4 L1148.0 197.9 L1148.4 199.4 L1148.8 200.8 L1149.2 202.3 L1149.6 203.7 L1150.0 205.2 L1150.4 206.6 L1150.7 208.1 L1151.1 209.5 L1151.5 211.0 L1151.8 212.5 L1152.2 213.9 L1152.6 215.4 L1152.9 216.8 L1153.3 218.3 L1153.6 219.8 L1154.0 221.2 L1154.3 222.7 L1154.7 224.2 L1155.0 225.6 L1155.3 227.1 L1155.7 228.6 L1156.0 230.0 L1156.4 231.5 L1156.7 233.0 L1157.0 234.4 L1157.4 235.9 L1157.7 237.3 L1158.0 238.8 L1158.3 240.3 L1158.7 241.7 L1159.0 243.2 L1159.3 244.7 L1159.7 246.1 L1160.0 247.6 L1160.3 249.0 L1160.7 250.5 L1161.0 252.0 L1161.3 253.4 L1161.6 254.9 L1162.0 256.3 L1162.3 257.8 L1162.7 259.3 L1163.0 260.7 L1163.3 262.2 L1163.7 263.6 L1164.0 265.1 L1164.3 266.5 L1164.7 268.0 L1165.0 269.4 L1165.4 270.9 L1165.7 272.3 L1166.1 273.8 L1166.4 275.2 L1166.7 276.7 L1167.1 278.1 L1167.4 279.6 L1167.8 281.0 L1168.1 282.5 L1168.5 283.9 L1168.8 285.4 L1169.2 286.8 L1169.5 288.3 L1169.9 289.7 L1170.2 291.2 L1170.6 292.6 L1171.0 294.1 L1171.3 295.5 L1171.7 297.0 L1172.0 298.4 L1172.4 299.9 L1172.8 301.3 L1173.1 302.8 L1173.5 304.2 L1173.9 305.7 L1174.2 307.1 L1174.6 308.6 L1175.0 310.0 L1175.3 311.4 L1175.7 312.9 L1176.1 314.3 L1176.4 315.8 L1176.8 317.2 L1177.2 318.7 L1177.6 320.1 L1177.9 321.6 L1178.3 323.0 L1178.7 324.5 L1179.1 325.9 L1179.5 327.4 L1179.9 328.8 L1180.2 330.3 L1180.6 331.7 L1181.0 333.2 L1181.4 334.6 L1181.8 336.1 L1182.2 337.5 L1182.6 339.0 L1183.0 340.4 L1183.4 341.9 L1183.8 343.4 L1184.2 344.8 L1184.6 346.3 L1185.0 347.7 L1185.4 349.2 L1185.8 350.6 L1186.2 352.1 L1186.6 353.5 L1187.0 355.0 L1187.4 356.5 L1187.8 357.9 L1188.2 359.4 L1188.6 360.9 L1189.0 362.3 L1189.4 363.8 L1189.9 365.2 L1190.3 366.7 L1190.7 368.2 L1191.1 369.6 L1191.5 371.1 L1192.0 372.6 L1192.4 374.0 L1192.8 375.5 L1193.2 377.0 L1193.7 378.5 L1194.1 379.9 L1194.5 381.4 L1195.0 382.9 L1195.4 384.4 L1195.9 385.8 L1196.3 387.3 L1196.8 388.8 L1197.2 390.2 L1197.7 391.7 L1198.1 393.2 L1198.6 394.6 L1199.1 396.1 L1199.6 397.5 L1200.1 399.0 L1200.6 400.4 L1201.1 401.9 L1201.6 403.3 L1202.1 404.7 L1202.7 406.2 L1203.2 407.6 L1203.8 409.0 L1204.3 410.4 L1204.9 411.8 L1205.5 413.2 L1206.1 414.6 L1206.7 415.9 L1207.3 417.3 L1208.0 418.7 L1208.6 420.0 L1209.3 421.3 L1210.0 422.7 L1210.7 424.0 L1211.4 425.3 L1212.1 426.6 L1212.9 427.8 L1213.6 429.1 L1214.4 430.3 L1215.2 431.6 L1216.0 432.8 L1216.9 434.0 L1217.7 435.2 L1218.6 436.4 L1219.5 437.6 L1220.4 438.7 L1221.4 439.8 L1222.3 441.0 L1223.3 442.1 L1224.3 443.1 L1225.3 444.2 L1226.4 445.3 L1227.4 446.3 L1228.5 447.3 L1229.6 448.3 L1230.7 449.3 L1231.8 450.2 L1232.9 451.1 L1234.1 452.1 L1235.3 452.9 L1236.5 453.8 L1237.7 454.7 L1238.9 455.5 L1240.1 456.4 L1241.3 457.2 L1242.5 458.0 L1243.8 458.8 L1245.1 459.4 L1246.4 460.2 L1248.0 460.3 L1249.2 461.2 L1250.4 462.1 L1251.8 462.5 L1253.2 463.2 L1254.7 463.3 L1256.0 464.0 L1257.5 464.3 L1258.8 465.0 L1260.3 465.4 L1261.8 465.4 L1263.2 466.0 L1264.6 466.4 L1266.0 467.1 L1267.5 467.3 L1269.0 467.2 L1270.4 467.9 L1272.0 467.7 L1273.4 468.3 L1275.0 468.2 L1276.5 468.3 L1277.9 469.1 L1279.5 468.9 L1281.0 469.0 L1282.5 469.7 L1284.0 469.8 L1285.5 469.5 L1287.0 470.1 L1288.6 470.0 L1290.1 470.2 L1291.7 470.0 L1293.2 470.6 L1294.7 470.5 L1296.2 470.8 L1297.7 470.8 L1299.3 470.5 L1300.8 470.6 L1302.3 470.5 L1303.9 470.6 L1305.4 470.6 L1306.9 470.9 L1308.4 471.1 L1309.9 470.8 L1311.4 471.3 L1313.0 471.2 L1314.5 471.2 L1316.0 471.6 L1317.5 471.4 L1319.0 471.4 L1320.5 471.5 L1322.0 471.8 L1323.5 471.3 L1325.0 472.0 L1326.5 471.4 L1328.0 472.0 L1329.5 472.1 L1331.0 471.5 L1332.5 472.1 L1334.0 471.9 L1335.5 472.0 L1337.0 471.7 L1338.5 471.7 L1340.0 471.9 L1341.5 472.4 L1343.0 471.9 L1344.5 472.3 L1346.0 472.5 L1347.5 472.5 L1349.0 472.1 L1350.5 472.2 L1352.0 472.3 L1353.5 472.5 L1355.0 472.0 L1356.5 472.5 L1358.0 472.6 L1359.5 472.6 L1361.0 472.1 L1362.4 472.7 L1363.9 472.1 L1365.4 472.3 L1366.9 472.5 L1368.4 472.7 L1369.9 472.3 L1371.4 472.7 L1372.9 472.5 L1374.4 472.3 L1375.9 472.3 L1377.4 472.2 L1378.9 472.2 L1380.4 472.2 L1381.9 472.6 L1383.4 472.8 L1384.9 472.2 L1386.4 472.2 L1387.9 472.8 L1389.4 472.5 L1390.9 472.4 L1392.4 472.3 L1393.9 472.5 L1395.4 472.7 L1396.9 472.4 L1398.4 472.4 L1399.9 472.1 L1401.4 472.7 L1402.9 472.1 L1404.4 472.4 L1405.9 472.7 L1407.4 472.2 L1408.9 472.6 L1410.4 472.7 L1411.9 472.5 L1413.4 472.6 L1414.9 472.1 L1416.4 472.3 L1417.9 472.1 L1419.4 472.6 L1420.9 472.2 L1422.4 472.3 L1423.9 472.6 L1425.4 472.5 L1426.9 472.6 L1428.4 472.2 L1429.9 472.2 L1431.5 472.4 L1433.0 472.2 L1434.5 472.0 L1436.0 472.1 L1437.5 471.9 L1439.0 472.0 L1440.5 472.5 L1442.0 472.4 L1443.5 472.2 L1445.0 472.1 L1446.5 471.9 L1448.0 471.7 L1449.5 471.8 L1451.0 472.2 L1452.5 472.2 L1454.0 471.8 L1455.5 472.1 L1457.0 472.1 L1458.5 472.0 L1460.0 472.0 L1461.6 472.0 L1463.1 471.7 L1464.6 471.9 L1466.1 471.6 L1467.6 471.8 L1469.1 471.9 L1470.6 471.9 L1472.1 471.6 L1473.6 472.0 L1475.1 471.8 L1476.6 471.7 L1478.1 471.3 L1479.6 471.6 L1481.1 471.4 L1482.6 471.7 L1484.1 471.5 L1485.6 471.7 L1487.1 471.6 L1488.6 471.7 L1490.1 471.3 L1491.6 471.5 L1493.2 471.6 L1494.7 471.6 L1496.2 471.3 L1497.7 471.6 L1499.2 471.6 L1500.7 471.4 L1502.2 471.6 L1503.7 471.6 L1505.2 471.3 L1506.7 471.3 L1508.2 471.0 L1509.7 471.4 L1511.2 471.5 L1512.7 471.1 L1514.2 471.3 L1515.7 471.3 L1517.2 471.3 L1518.7 470.9 L1520.2 471.3 L1521.7 471.1 L1523.2 471.2 L1524.7 471.0 L1526.2 471.1 L1527.7 471.2 L1529.2 471.1 L1530.7 471.1 L1532.2 470.6 L1533.7 470.7 L1535.2 470.9 L1536.7 470.9 L1538.2 470.9" stroke="#000" stroke-width="3.3"/>
<path d="M886.4 28.8 L887.9 28.9 L889.4 28.9 L890.9 29.0 L892.3 29.1 L893.8 29.1 L895.3 29.2 L896.8 29.3 L898.3 29.4 L899.8 29.4 L901.3 29.5 L902.8 29.6 L904.3 29.7 L905.8 29.8 L907.3 29.9 L908.7 30.0 L910.2 30.1 L911.7 30.2 L913.2 30.3 L914.7 30.4 L916.2 30.5 L917.7 30.6 L919.2 30.8 L920.7 30.9 L922.2 31.0 L923.7 31.1 L925.2 31.3 L926.7 31.4 L928.2 31.5 L929.7 31.7 L931.2 31.8 L932.7 31.9 L934.2 32.1 L935.7 32.3 L937.2 32.4 L938.7 32.6 L940.2 32.7 L941.7 32.9 L943.2 33.1 L944.7 33.2 L946.2 33.4 L947.7 33.6 L949.2 33.8 L950.7 34.0 L952.2 34.2 L953.7 34.4 L955.2 34.6 L956.7 34.8 L958.2 35.0 L959.7 35.2 L961.2 35.4 L962.7 35.6 L964.2 35.9 L965.7 36.1 L967.1 36.3 L968.6 36.6 L970.1 36.8 L971.6 37.1 L973.1 37.3 L974.6 37.6 L976.1 37.8 L977.6 38.1 L979.0 38.4 L980.5 38.6 L982.0 38.9 L983.5 39.2 L985.0 39.5 L986.4 39.8 L987.9 40.1 L989.4 40.4 L990.9 40.7 L992.3 41.0 L993.8 41.3 L995.3 41.7 L996.7 42.0 L998.2 42.3 L999.7 42.7 L1001.1 43.0 L1002.6 43.4 L1004.1 43.7 L1005.5 44.1 L1007.0 44.4 L1008.4 44.8 L1009.9 45.2 L1011.3 45.6 L1012.8 46.0 L1014.2 46.3 L1015.7 46.7 L1017.1 47.1 L1018.6 47.6 L1020.0 48.0 L1021.4 48.4 L1022.9 48.8 L1024.3 49.3 L1025.7 49.7 L1027.2 50.1 L1028.6 50.6 L1030.0 51.1 L1031.4 51.5 L1032.9 52.0 L1034.3 52.5 L1035.7 52.9 L1037.1 53.4 L1038.5 53.9 L1039.9 54.4 L1041.3 54.9 L1042.7 55.4 L1044.1 56.0 L1045.5 56.5 L1046.9 57.0 L1048.3 57.6 L1049.7 58.1 L1051.1 58.7 L1052.4 59.2 L1053.8 59.8 L1055.2 60.3 L1056.6 60.9 L1057.9 61.5 L1059.3 62.1 L1060.7 62.7 L1062.0 63.3 L1063.4 63.9 L1064.7 64.5 L1066.1 65.1 L1067.4 65.8 L1068.8 66.4 L1070.1 67.0 L1071.4 67.7 L1072.8 68.3 L1074.1 69.0 L1075.4 69.6 L1076.8 70.3 L1078.1 71.0 L1079.4 71.7 L1080.7 72.4 L1082.0 73.1 L1083.3 73.8 L1084.6 74.5 L1085.9 75.2 L1087.2 75.9 L1088.5 76.6 L1089.8 77.3 L1091.1 78.1 L1092.4 78.8 L1093.7 79.5 L1094.9 80.3 L1096.2 81.0 L1097.5 81.8 L1098.8 82.5 L1100.0 83.3 L1101.3 84.1 L1102.6 84.8 L1103.9 85.6 L1105.1 86.4 L1106.4 87.2 L1107.7 87.9 L1108.9 88.7 L1110.2 89.5 L1111.4 90.3 L1112.7 91.1 L1114.0 91.9 L1115.2 92.7 L1116.5 93.5 L1117.7 94.3 L1119.0 95.1 L1120.2 95.9 L1121.5 96.7 L1122.7 97.5 L1124.0 98.3 L1125.3 99.1 L1126.5 100.0 L1127.8 100.8 L1129.0 101.6 L1130.3 102.4 L1131.5 103.2 L1132.8 104.1 L1134.1 104.9 L1135.3 105.7 L1136.6 106.5 L1137.8 107.3 L1139.1 108.2 L1140.3 109.0 L1141.6 109.8 L1142.9 110.6 L1144.1 111.4 L1145.4 112.3 L1146.7 113.1 L1147.9 113.9 L1149.2 114.7 L1150.5 115.5 L1151.8 116.4 L1153.0 117.2 L1154.3 118.0 L1155.6 118.8 L1156.9 119.6 L1158.2 120.4 L1159.4 121.3 L1160.7 122.1 L1162.0 122.9 L1163.3 123.7 L1164.5 124.5 L1165.8 125.4 L1167.1 126.2 L1168.4 127.0 L1169.6 127.8 L1170.9 128.7 L1172.2 129.5 L1173.5 130.3 L1174.7 131.1 L1176.0 132.0 L1177.2 132.8 L1178.5 133.7 L1179.8 134.5 L1181.0 135.4 L1182.3 136.2 L1183.5 137.1 L1184.7 137.9 L1186.0 138.8 L1187.2 139.7 L1188.4 140.5 L1189.7 141.4 L1190.9 142.3 L1192.1 143.2 L1193.3 144.1 L1194.5 145.0 L1195.7 145.9 L1196.9 146.8 L1198.1 147.7 L1199.3 148.6 L1200.4 149.5 L1201.6 150.5 L1202.8 151.4 L1203.9 152.3 L1205.1 153.3 L1206.2 154.2 L1207.3 155.2 L1208.5 156.2 L1209.6 157.1 L1210.7 158.1 L1211.8 159.1 L1212.9 160.1 L1213.9 161.1 L1215.0 162.1 L1216.1 163.2 L1217.1 164.2 L1218.2 165.2 L1219.2 166.3 L1220.2 167.3 L1221.3 168.4 L1222.3 169.5 L1223.3 170.6 L1224.2 171.7 L1225.2 172.8 L1226.2 173.9 L1227.1 175.0 L1228.1 176.1 L1229.0 177.3 L1229.9 178.4 L1230.8 179.6 L1231.7 180.8 L1232.6 181.9 L1233.5 183.1 L1234.3 184.3 L1235.2 185.5 L1236.0 186.8 L1236.8 188.0 L1237.7 189.2 L1238.5 190.5 L1239.3 191.7 L1240.1 193.0 L1240.8 194.2 L1241.6 195.5 L1242.4 196.8 L1243.1 198.1 L1243.9 199.4 L1244.6 200.7 L1245.3 202.0 L1246.1 203.3 L1246.8 204.6 L1247.5 206.0 L1248.2 207.3 L1248.9 208.7 L1249.5 210.0 L1250.2 211.4 L1250.9 212.7 L1251.5 214.1 L1252.2 215.4 L1252.8 216.8 L1253.4 218.2 L1254.1 219.6 L1254.7 221.0 L1255.3 222.4 L1255.9 223.8 L1256.5 225.2 L1257.1 226.6 L1257.7 228.0 L1258.2 229.4 L1258.8 230.8 L1259.4 232.2 L1260.0 233.6 L1260.5 235.1 L1261.1 236.5 L1261.6 237.9 L1262.2 239.4 L1262.7 240.8 L1263.2 242.2 L1263.7 243.7 L1264.3 245.1 L1264.8 246.5 L1265.3 248.0 L1265.8 249.4 L1266.3 250.9 L1266.8 252.3 L1267.3 253.8 L1267.8 255.2 L1268.3 256.7 L1268.8 258.1 L1269.3 259.5 L1269.7 261.0 L1270.2 262.4 L1270.7 263.9 L1271.2 265.3 L1271.6 266.8 L1272.1 268.2 L1272.6 269.7 L1273.0 271.1 L1273.5 272.5 L1274.0 274.0 L1274.4 275.4 L1274.9 276.9 L1275.3 278.3 L1275.8 279.7 L1276.2 281.2 L1276.7 282.6 L1277.1 284.0 L1277.6 285.5 L1278.0 286.9 L1278.4 288.3 L1278.9 289.8 L1279.3 291.2 L1279.8 292.6 L1280.2 294.0 L1280.7 295.5 L1281.1 296.9 L1281.5 298.3 L1282.0 299.7 L1282.4 301.2 L1282.8 302.6 L1283.3 304.0 L1283.7 305.4 L1284.2 306.8 L1284.6 308.3 L1285.0 309.7 L1285.5 311.1 L1285.9 312.5 L1286.4 313.9 L1286.8 315.4 L1287.2 316.8 L1287.7 318.2 L1288.1 319.6 L1288.6 321.0 L1289.0 322.4 L1289.5 323.8 L1289.9 325.3 L1290.4 326.7 L1290.8 328.1 L1291.3 329.5 L1291.7 330.9 L1292.2 332.3 L1292.6 333.7 L1293.1 335.1 L1293.6 336.5 L1294.0 338.0 L1294.5 339.4 L1295.0 340.8 L1295.5 342.2 L1295.9 343.6 L1296.4 345.0 L1296.9 346.4 L1297.4 347.8 L1297.9 349.2 L1298.4 350.6 L1298.8 352.0 L1299.3 353.5 L1299.8 354.9 L1300.4 356.3 L1300.9 357.7 L1301.4 359.1 L1301.9 360.5 L1302.4 361.9 L1302.9 363.3 L1303.5 364.7 L1304.0 366.1 L1304.5 367.5 L1305.1 369.0 L1305.6 370.4 L1306.2 371.8 L1306.7 373.2 L1307.3 374.6 L1307.8 376.0 L1308.4 377.4 L1309.0 378.8 L1309.6 380.2 L1310.1 381.6 L1310.7 383.1 L1311.3 384.5 L1311.9 385.9 L1312.5 387.3 L1313.1 388.7 L1313.8 390.1 L1314.4 391.5 L1315.0 392.9 L1315.6 394.3 L1316.3 395.7 L1316.9 397.1 L1317.6 398.5 L1318.3 399.9 L1318.9 401.3 L1319.6 402.7 L1320.3 404.1 L1321.0 405.5 L1321.7 406.8 L1322.4 408.2 L1323.1 409.5 L1323.9 410.9 L1324.6 412.2 L1325.4 413.5 L1326.1 414.9 L1326.9 416.2 L1327.7 417.5 L1328.4 418.8 L1329.2 420.1 L1330.0 421.3 L1330.9 422.6 L1331.7 423.9 L1332.5 425.1 L1333.4 426.3 L1334.2 427.5 L1335.1 428.8 L1336.0 429.9 L1336.9 431.1 L1337.8 432.3 L1338.7 433.4 L1339.6 434.6 L1340.6 435.7 L1341.5 436.8 L1342.5 437.9 L1343.5 438.9 L1344.5 440.0 L1345.5 441.0 L1346.5 442.1 L1347.5 443.1 L1348.6 444.0 L1349.6 445.0 L1350.7 446.0 L1351.8 446.9 L1352.9 447.8 L1354.0 448.7 L1355.1 449.5 L1356.3 450.4 L1357.5 451.2 L1358.6 452.0 L1359.8 452.8 L1361.0 453.5 L1362.3 454.3 L1363.5 455.0 L1364.8 455.7 L1366.0 456.3 L1367.3 457.0 L1368.6 457.6 L1369.9 458.1 L1371.3 458.7 L1372.6 459.2 L1374.0 459.7 L1375.4 460.2 L1376.8 460.7 L1378.2 461.1 L1379.6 461.6 L1381.1 462.0 L1382.5 462.3 L1384.0 462.7 L1385.4 463.0 L1386.9 463.4 L1388.4 463.7 L1389.9 463.9 L1391.4 464.2 L1392.9 464.5 L1394.5 464.7 L1396.0 464.9 L1397.5 465.1 L1399.1 465.3 L1400.6 465.5 L1402.2 465.7 L1403.7 465.9 L1405.3 466.0 L1406.8 466.1 L1408.4 466.3 L1410.0 466.4 L1411.5 466.5 L1413.1 466.6 L1414.7 466.7 L1416.2 466.8 L1417.8 466.8 L1419.4 466.9 L1420.9 467.0 L1422.5 467.0 L1424.0 467.1 L1425.6 467.1 L1427.2 467.2 L1428.7 467.2 L1430.3 467.3 L1431.8 467.3 L1433.4 467.4 L1434.9 467.4 L1436.4 467.4 L1438.0 467.4 L1439.5 467.5 L1441.1 467.5 L1442.6 467.5 L1444.1 467.6 L1445.6 467.6 L1447.1 467.6 L1448.7 467.7 L1450.2 467.7 L1451.7 467.7 L1453.2 467.8 L1454.7 467.8 L1456.2 467.8 L1457.7 467.9 L1459.2 467.9 L1460.7 468.0 L1462.2 468.0 L1463.7 468.0 L1465.1 468.1 L1466.6 468.1 L1468.1 468.2 L1469.6 468.2 L1471.1 468.3 L1472.6 468.3 L1474.0 468.4 L1475.5 468.4 L1477.0 468.5 L1478.5 468.5 L1479.9 468.6 L1481.4 468.6 L1482.9 468.7 L1484.3 468.7 L1485.8 468.8 L1487.3 468.8 L1488.8 468.9 L1490.2 468.9 L1491.7 469.0 L1493.2 469.0 L1494.7 469.1 L1496.1 469.1 L1497.6 469.2 L1499.1 469.3 L1500.6 469.3 L1502.0 469.4 L1503.5 469.4 L1505.0 469.5 L1506.5 469.5 L1508.0 469.6 L1509.5 469.7 L1510.9 469.7 L1512.4 469.8 L1513.9 469.9 L1515.4 469.9 L1516.9 470.0 L1518.4 470.0 L1519.9 470.1 L1521.4 470.2 L1522.9 470.2 L1524.4 470.3 L1526.0 470.4 L1527.5 470.4 L1529.0 470.5 L1530.5 470.6 L1532.0 470.6 L1533.6 470.7 L1535.1 470.8 L1536.7 470.8 L1538.2 470.9" stroke="#e3101c" stroke-width="3.0"/>
<path d="M886.4 29.6 L887.9 30.0 L889.4 30.4 L890.8 30.7 L892.3 31.1 L893.8 31.5 L895.3 31.9 L896.7 32.3 L898.2 32.7 L899.7 33.0 L901.2 33.4 L902.6 33.8 L904.1 34.2 L905.6 34.6 L907.0 35.0 L908.5 35.3 L909.9 35.7 L911.4 36.1 L912.9 36.5 L914.3 36.9 L915.8 37.3 L917.2 37.6 L918.7 38.0 L920.1 38.4 L921.6 38.8 L923.0 39.2 L924.5 39.6 L925.9 40.0 L927.4 40.3 L928.8 40.7 L930.3 41.1 L931.7 41.5 L933.2 41.9 L934.6 42.3 L936.1 42.6 L937.5 43.0 L938.9 43.4 L940.4 43.8 L941.8 44.2 L943.3 44.6 L944.7 44.9 L946.1 45.3 L947.6 45.7 L949.0 46.1 L950.5 46.5 L951.9 46.8 L953.3 47.2 L954.8 47.6 L956.2 48.0 L957.7 48.4 L959.1 48.8 L960.5 49.1 L962.0 49.5 L963.4 49.9 L964.8 50.3 L966.3 50.7 L967.7 51.0 L969.2 51.4 L970.6 51.8 L972.0 52.2 L973.5 52.5 L974.9 52.9 L976.4 53.3 L977.8 53.7 L979.2 54.1 L980.7 54.4 L982.1 54.8 L983.6 55.2 L985.0 55.6 L986.4 55.9 L987.9 56.3 L989.3 56.7 L990.8 57.1 L992.2 57.4 L993.7 57.8 L995.1 58.2 L996.6 58.5 L998.0 58.9 L999.4 59.3 L1000.9 59.7 L1002.3 60.0 L1003.8 60.4 L1005.3 60.8 L1006.7 61.1 L1008.2 61.5 L1009.6 61.9 L1011.1 62.2 L1012.5 62.6 L1014.0 63.0 L1015.4 63.3 L1016.9 63.7 L1018.4 64.1 L1019.8 64.4 L1021.3 64.8 L1022.8 65.2 L1024.2 65.5 L1025.7 65.9 L1027.2 66.3 L1028.6 66.6 L1030.1 67.0 L1031.6 67.3 L1033.1 67.7 L1034.6 68.1 L1036.0 68.4 L1037.5 68.8 L1039.0 69.1 L1040.5 69.5 L1042.0 69.8 L1043.5 70.2 L1045.0 70.6 L1046.4 70.9 L1047.9 71.3 L1049.4 71.6 L1050.9 72.0 L1052.4 72.3 L1053.9 72.7 L1055.4 73.0 L1056.9 73.4 L1058.4 73.7 L1060.0 74.1 L1061.5 74.4 L1063.0 74.8 L1064.5 75.2 L1066.0 75.6 L1067.4 75.9 L1068.9 76.3 L1070.4 76.7 L1071.9 77.1 L1073.4 77.5 L1074.9 77.9 L1076.3 78.3 L1077.8 78.8 L1079.3 79.2 L1080.7 79.6 L1082.2 80.1 L1083.6 80.6 L1085.0 81.0 L1086.5 81.5 L1087.9 82.0 L1089.3 82.6 L1090.7 83.1 L1092.1 83.6 L1093.4 84.2 L1094.8 84.8 L1096.2 85.4 L1097.5 86.0 L1098.8 86.6 L1100.1 87.2 L1101.5 87.9 L1102.7 88.6 L1104.0 89.3 L1105.3 90.0 L1106.5 90.7 L1107.8 91.5 L1109.0 92.3 L1110.2 93.1 L1111.4 93.9 L1112.6 94.7 L1113.7 95.6 L1114.9 96.5 L1116.0 97.4 L1117.1 98.3 L1118.2 99.2 L1119.3 100.2 L1120.4 101.1 L1121.5 102.1 L1122.5 103.1 L1123.5 104.2 L1124.6 105.2 L1125.6 106.2 L1126.6 107.3 L1127.6 108.4 L1128.5 109.5 L1129.5 110.6 L1130.4 111.7 L1131.4 112.9 L1132.3 114.0 L1133.2 115.2 L1134.1 116.4 L1135.0 117.6 L1135.9 118.8 L1136.7 120.0 L1137.6 121.2 L1138.4 122.4 L1139.3 123.7 L1140.1 125.0 L1140.9 126.2 L1141.7 127.5 L1142.5 128.8 L1143.3 130.1 L1144.0 131.4 L1144.8 132.7 L1145.5 134.0 L1146.3 135.3 L1147.0 136.7 L1147.7 138.0 L1148.5 139.4 L1149.2 140.7 L1149.9 142.1 L1150.5 143.4 L1151.2 144.8 L1151.9 146.2 L1152.6 147.6 L1153.2 149.0 L1153.9 150.3 L1154.5 151.7 L1155.1 153.1 L1155.7 154.5 L1156.4 155.9 L1157.0 157.3 L1157.6 158.7 L1158.2 160.1 L1158.8 161.5 L1159.3 162.9 L1159.9 164.4 L1160.5 165.8 L1161.0 167.2 L1161.6 168.6 L1162.2 170.0 L1162.7 171.4 L1163.2 172.8 L1163.8 174.2 L1164.3 175.7 L1164.8 177.1 L1165.3 178.5 L1165.8 179.9 L1166.4 181.3 L1166.9 182.8 L1167.4 184.2 L1167.8 185.6 L1168.3 187.0 L1168.8 188.5 L1169.3 189.9 L1169.8 191.3 L1170.2 192.8 L1170.7 194.2 L1171.2 195.6 L1171.6 197.0 L1172.1 198.5 L1172.5 199.9 L1173.0 201.3 L1173.4 202.8 L1173.9 204.2 L1174.3 205.7 L1174.7 207.1 L1175.2 208.5 L1175.6 210.0 L1176.0 211.4 L1176.4 212.9 L1176.9 214.3 L1177.3 215.7 L1177.7 217.2 L1178.1 218.6 L1178.5 220.1 L1178.9 221.5 L1179.4 223.0 L1179.8 224.4 L1180.2 225.8 L1180.6 227.3 L1181.0 228.7 L1181.4 230.2 L1181.8 231.6 L1182.2 233.1 L1182.6 234.5 L1183.0 236.0 L1183.4 237.4 L1183.8 238.9 L1184.2 240.3 L1184.6 241.8 L1185.0 243.2 L1185.4 244.7 L1185.8 246.1 L1186.2 247.6 L1186.6 249.0 L1187.0 250.5 L1187.4 251.9 L1187.8 253.4 L1188.2 254.8 L1188.6 256.3 L1189.0 257.7 L1189.4 259.2 L1189.8 260.6 L1190.2 262.1 L1190.6 263.5 L1191.0 265.0 L1191.4 266.4 L1191.8 267.9 L1192.2 269.3 L1192.7 270.8 L1193.1 272.2 L1193.5 273.7 L1193.9 275.1 L1194.3 276.6 L1194.7 278.0 L1195.1 279.5 L1195.6 280.9 L1196.0 282.4 L1196.4 283.8 L1196.8 285.2 L1197.3 286.7 L1197.7 288.1 L1198.1 289.6 L1198.6 291.0 L1199.0 292.4 L1199.5 293.9 L1199.9 295.3 L1200.3 296.8 L1200.8 298.2 L1201.2 299.6 L1201.7 301.1 L1202.1 302.5 L1202.6 303.9 L1203.1 305.4 L1203.5 306.8 L1204.0 308.2 L1204.5 309.7 L1204.9 311.1 L1205.4 312.5 L1205.9 313.9 L1206.4 315.4 L1206.9 316.8 L1207.4 318.2 L1207.9 319.6 L1208.4 321.0 L1208.9 322.5 L1209.4 323.9 L1209.9 325.3 L1210.4 326.7 L1210.9 328.1 L1211.5 329.5 L1212.0 330.9 L1212.5 332.3 L1213.1 333.7 L1213.6 335.1 L1214.2 336.6 L1214.7 338.0 L1215.3 339.3 L1215.8 340.7 L1216.4 342.1 L1217.0 343.5 L1217.6 344.9 L1218.1 346.3 L1218.7 347.7 L1219.3 349.1 L1219.9 350.5 L1220.5 351.9 L1221.1 353.2 L1221.8 354.6 L1222.4 356.0 L1223.0 357.4 L1223.6 358.7 L1224.3 360.1 L1224.9 361.5 L1225.6 362.8 L1226.2 364.2 L1226.9 365.6 L1227.6 366.9 L1228.3 368.3 L1228.9 369.6 L1229.6 371.0 L1230.3 372.3 L1231.0 373.7 L1231.8 375.0 L1232.5 376.3 L1233.2 377.7 L1233.9 379.0 L1234.7 380.3 L1235.4 381.6 L1236.2 382.9 L1237.0 384.2 L1237.7 385.5 L1238.5 386.8 L1239.3 388.1 L1240.1 389.4 L1241.0 390.7 L1241.8 391.9 L1242.6 393.2 L1243.5 394.4 L1244.3 395.6 L1245.2 396.9 L1246.1 398.1 L1246.9 399.3 L1247.8 400.5 L1248.8 401.7 L1249.7 402.8 L1250.6 404.0 L1251.6 405.1 L1252.5 406.3 L1253.5 407.4 L1254.5 408.5 L1255.5 409.6 L1256.5 410.7 L1257.5 411.8 L1258.5 412.8 L1259.6 413.8 L1260.6 414.9 L1261.7 415.9 L1262.8 416.9 L1263.9 417.9 L1265.0 418.8 L1266.2 419.8 L1267.3 420.7 L1268.5 421.6 L1269.7 422.5 L1270.8 423.4 L1272.0 424.2 L1273.3 425.1 L1274.5 425.9 L1275.7 426.7 L1277.0 427.5 L1278.2 428.3 L1279.5 429.1 L1280.8 429.9 L1282.1 430.6 L1283.4 431.3 L1284.7 432.0 L1286.0 432.7 L1287.3 433.4 L1288.7 434.1 L1290.0 434.7 L1291.3 435.4 L1292.7 436.0 L1294.1 436.6 L1295.4 437.2 L1296.8 437.8 L1298.2 438.3 L1299.6 438.9 L1301.0 439.4 L1302.4 440.0 L1303.8 440.5 L1305.2 441.0 L1306.6 441.5 L1308.0 441.9 L1309.4 442.4 L1310.9 442.8 L1312.3 443.3 L1313.7 443.7 L1315.2 444.1 L1316.6 444.5 L1318.1 444.9 L1319.5 445.3 L1321.0 445.7 L1322.4 446.1 L1323.9 446.4 L1325.3 446.8 L1326.8 447.1 L1328.3 447.4 L1329.8 447.7 L1331.2 448.0 L1332.7 448.3 L1334.2 448.6 L1335.7 448.9 L1337.2 449.2 L1338.7 449.5 L1340.2 449.7 L1341.7 450.0 L1343.2 450.2 L1344.7 450.5 L1346.2 450.7 L1347.7 450.9 L1349.2 451.1 L1350.7 451.3 L1352.2 451.6 L1353.7 451.8 L1355.2 452.0 L1356.7 452.2 L1358.2 452.3 L1359.7 452.5 L1361.3 452.7 L1362.8 452.9 L1364.3 453.1 L1365.8 453.2 L1367.3 453.4 L1368.8 453.6 L1370.4 453.7 L1371.9 453.9 L1373.4 454.0 L1374.9 454.2 L1376.4 454.3 L1377.9 454.5 L1379.5 454.6 L1381.0 454.8 L1382.5 454.9 L1384.0 455.1 L1385.5 455.2 L1387.0 455.3 L1388.5 455.5 L1390.1 455.6 L1391.6 455.8 L1393.1 455.9 L1394.6 456.1 L1396.1 456.2 L1397.6 456.4 L1399.1 456.5 L1400.6 456.6 L1402.1 456.8 L1403.6 456.9 L1405.1 457.1 L1406.6 457.2 L1408.1 457.4 L1409.6 457.5 L1411.1 457.7 L1412.6 457.8 L1414.1 458.0 L1415.6 458.1 L1417.1 458.3 L1418.6 458.4 L1420.0 458.6 L1421.5 458.7 L1423.0 458.8 L1424.5 459.0 L1426.0 459.1 L1427.5 459.3 L1429.0 459.4 L1430.5 459.6 L1431.9 459.7 L1433.4 459.9 L1434.9 460.0 L1436.4 460.2 L1437.9 460.3 L1439.4 460.4 L1440.8 460.6 L1442.3 460.7 L1443.8 460.9 L1445.3 461.0 L1446.8 461.1 L1448.3 461.3 L1449.7 461.4 L1451.2 461.6 L1452.7 461.7 L1454.2 461.8 L1455.7 462.0 L1457.2 462.1 L1458.6 462.2 L1460.1 462.4 L1461.6 462.5 L1463.1 462.6 L1464.6 462.8 L1466.1 462.9 L1467.5 463.0 L1469.0 463.1 L1470.5 463.3 L1472.0 463.4 L1473.5 463.5 L1475.0 463.6 L1476.5 463.7 L1477.9 463.9 L1479.4 464.0 L1480.9 464.1 L1482.4 464.2 L1483.9 464.3 L1485.4 464.4 L1486.9 464.5 L1488.4 464.7 L1489.9 464.8 L1491.4 464.9 L1492.8 465.0 L1494.3 465.1 L1495.8 465.2 L1497.3 465.3 L1498.8 465.4 L1500.3 465.5 L1501.8 465.6 L1503.3 465.7 L1504.8 465.7 L1506.3 465.8 L1507.8 465.9 L1509.3 466.0 L1510.8 466.1 L1512.4 466.2 L1513.9 466.2 L1515.4 466.3 L1516.9 466.4 L1518.4 466.5 L1519.9 466.5 L1521.4 466.6 L1522.9 466.7 L1524.5 466.7 L1526.0 466.8 L1527.5 466.9 L1529.0 466.9 L1530.6 467.0 L1532.1 467.0 L1533.6 467.1 L1535.1 467.1 L1536.7 467.2 L1538.2 467.2" stroke="#1fe51f" stroke-width="3.2"/>
</g>
<g font-family="Liberation Sans, Arial, sans-serif" font-weight="bold" font-size="31.5" fill="#000" text-anchor="middle">
<text transform="translate(885.8,558.4) scale(1,1.05)">200</text>
<text transform="translate(1049.0,558.4) scale(1,1.05)">300</text>
<text transform="translate(1212.3,558.4) scale(1,1.05)">400</text>
<text transform="translate(1375.5,558.4) scale(1,1.05)">500</text>
<text transform="translate(1538.7,558.4) scale(1,1.05)">600</text>
</g>
<g font-family="Liberation Sans, Arial, sans-serif" font-weight="bold" font-size="31.5" fill="#000" text-anchor="end">
<text transform="translate(868.3,37.8) scale(1,1.05)">0</text>
<text transform="translate(868.3,126.4) scale(1,1.05)">-2</text>
<text transform="translate(868.3,215.0) scale(1,1.05)">-4</text>
<text transform="translate(868.3,303.5) scale(1,1.05)">-6</text>
<text transform="translate(868.3,392.1) scale(1,1.05)">-8</text>
<text transform="translate(868.3,480.7) scale(1,1.05)">-10</text>
</g>
<text transform="translate(1148.1,608.7) scale(0.985,1.065)" font-family="Liberation Sans, Arial, sans-serif" font-weight="bold" font-size="41.5" fill="#000">T <tspan font-weight="normal" stroke="#000" stroke-width="0.5" font-size="39.5">(</tspan><tspan font-weight="normal" font-size="22.5" dy="-20.8" dx="0.8">o</tspan><tspan dy="20.8" dx="2.2">C</tspan><tspan font-weight="normal" stroke="#000" stroke-width="0.5" font-size="39.5" dx="2.2">)</tspan></text>
<text transform="translate(818.2,412.3) rotate(-90) scale(1.01,1.035)" font-family="Liberation Sans, Arial, sans-serif" font-weight="bold" font-size="40.5" fill="#000">Weight loss <tspan font-weight="normal" stroke="#000" stroke-width="0.8">(%)</tspan></text>
<text transform="translate(1482.6,90.8) scale(1.0,1.03)" font-family="Liberation Sans, Arial, sans-serif" font-weight="bold" font-size="41.5" fill="#000">B</text>
<g font-family="Liberation Sans, Arial, sans-serif" font-weight="bold" font-size="41" fill="#000">
<text transform="translate(1005,138.6) scale(0.92,1.02)">a</text><text x="1005.5" y="186.1">b</text><text x="1006.2" y="250.3">c</text>
</g>
<line x1="1043.0" y1="139.3" x2="1117.0" y2="139.3" stroke="#000" stroke-width="2.1"/><path d="M1035.0 139.3 L1050.5 134.8 L1049.8 139.3 L1050.5 143.8 Z" fill="#000"/>
<line x1="1049.7" y1="185.6" x2="1165.6" y2="185.6" stroke="#1fe51f" stroke-width="2.1"/><path d="M1041.7 185.6 L1057.2 181.1 L1056.5 185.6 L1057.2 190.1 Z" fill="#1fe51f"/>
<line x1="1057.1" y1="236.8" x2="1244.8" y2="236.8" stroke="#e3101c" stroke-width="2.1"/><path d="M1049.1 236.8 L1064.6 232.3 L1063.9 236.8 L1064.6 241.3 Z" fill="#e3101c"/>
<rect x="57.3" y="481.7" width="6.75" height="4.8" fill="#fff"/><rect x="68.0" y="481.7" width="6.6" height="4.8" fill="#fff"/>
<rect x="834.3" y="476.7" width="6.1" height="4.8" fill="#fff"/><rect x="845.0" y="476.7" width="6.4" height="4.8" fill="#fff"/>
</svg></body></html>
